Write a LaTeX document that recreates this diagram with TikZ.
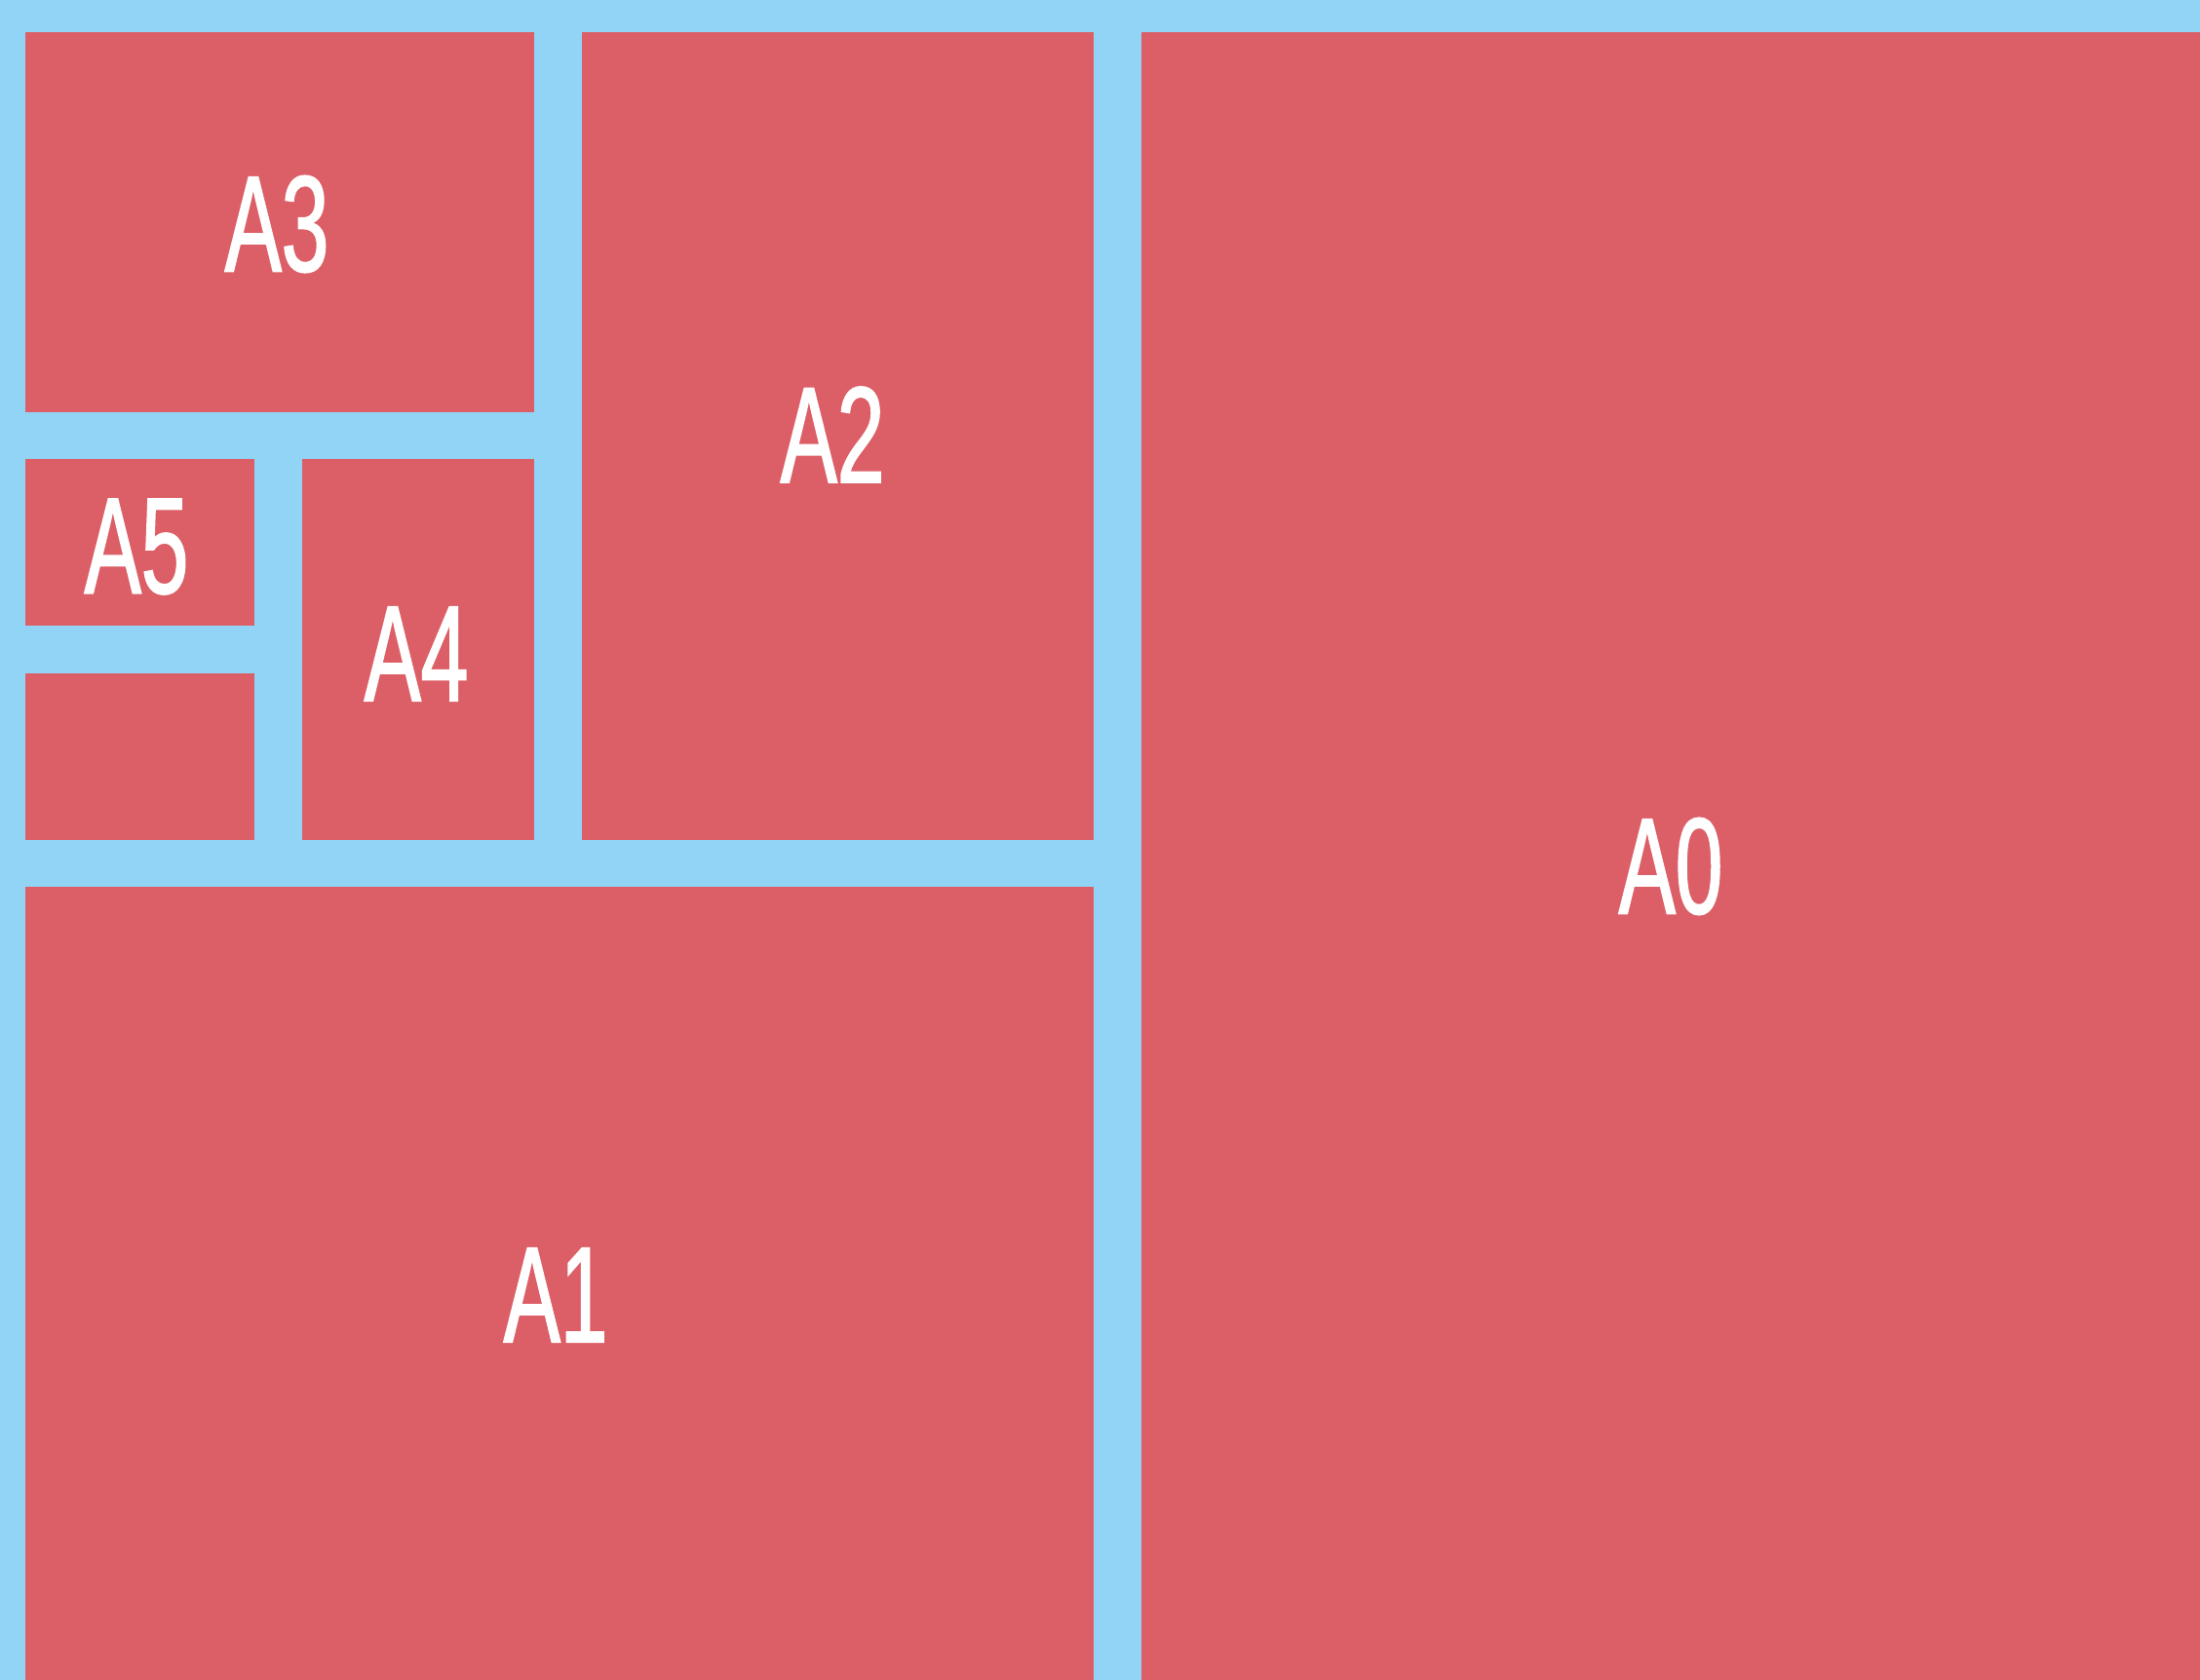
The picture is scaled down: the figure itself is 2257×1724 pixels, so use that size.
\documentclass[tikz,border=0pt]{standalone}
\usepackage{fontspec}
\newfontfamily\sizefont[FakeStretch=0.62,FakeBold=1.2]{Liberation Sans}
\usepackage{tikz}
\definecolor{bg}{HTML}{92D4F6}
\definecolor{sheet}{HTML}{DC5E66}
\tikzset{
  paper/.style={fill=sheet,draw=none},
  lab/.style={text=white,inner sep=0pt,font=\fontsize{40}{48}\selectfont\sizefont},
}
\begin{document}
\begin{tikzpicture}[x=0.1mm,y=-0.1mm]
\fill[bg] (0,0) rectangle (2257,1724);
\useasboundingbox (0,0) rectangle (2257,1724);
\fill[paper] (26,33) rectangle (548,423);
\fill[paper] (597,33) rectangle (1122,862);
\fill[paper] (1171,33) rectangle (2257,1724);
\fill[paper] (26,471) rectangle (261,642);
\fill[paper] (26,691) rectangle (261,862);
\fill[paper] (310,471) rectangle (548,862);
\fill[paper] (26,910) rectangle (1122,1724);
\node[lab] (a0) at (1714,889) {A0};
\node[lab] (a1) at (570,1329) {A1};
\node[lab] (a2) at (854,446) {A2};
\node[lab] (a3) at (284,230) {A3};
\node[lab] (a4) at (427,671) {A4};
\node[lab] (a5) at (140,561) {A5};
\end{tikzpicture}
\end{document}
